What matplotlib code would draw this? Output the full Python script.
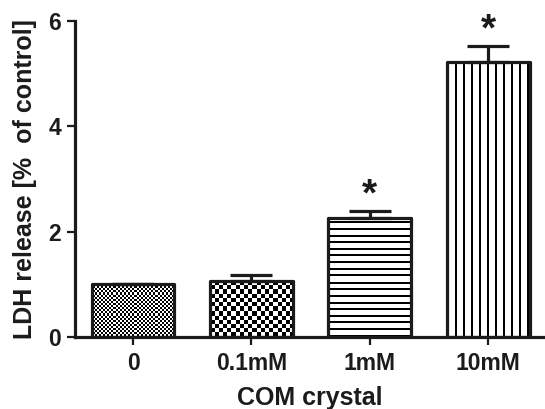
import numpy as np
import matplotlib
matplotlib.use("Agg")
import matplotlib.pyplot as plt

categories = ["0", "0.1mM", "1mM", "10mM"]
values = [1.0, 1.07, 2.26, 5.22]
errors = [0.0, 0.11, 0.14, 0.31]
significant = [False, False, True, True]
yticks = [0, 2, 4, 6]

plt.rcParams['font.family'] = ['Liberation Sans', 'DejaVu Sans']
plt.rcParams['font.weight'] = 'bold'
INK = '#1c1a1b'

DPI = 100
fig = plt.figure(figsize=(5.45, 4.09), dpi=DPI)
ax = fig.add_axes([0.1376, 0.176, 0.8624, 0.7727])
x = np.arange(len(categories))
ax.set_xlim(-0.49, 3.48)
ax.set_ylim(0, 6)

bars = ax.bar(x, values, width=0.70, facecolor='none', edgecolor=INK,
              linewidth=2.3, zorder=3, joinstyle='round')

# pattern fills (checkerboards / stripes) rendered as images clipped to bars
fig.canvas.draw()
kinds = [("checker", 2.1), ("checker", 4.2), ("hlines", 6.6), ("vlines", 8.0)]
for bar, (kind, per) in zip(bars, kinds):
    bx, bw, bh = bar.get_x(), bar.get_width(), bar.get_height()
    p0 = ax.transData.transform((bx, 0))
    p1 = ax.transData.transform((bx + bw, bh))
    wpx = int(round(p1[0] - p0[0]))
    hpx = int(round(p1[1] - p0[1]))
    yy, xx = np.mgrid[0:hpx, 0:wpx]
    if kind == "checker":
        arr = ((np.floor(xx / per) + np.floor(yy / per)) % 2 == 0).astype(float)
    elif kind == "hlines":
        arr = ((yy % per) >= 2).astype(float)
    else:
        arr = ((xx % per) >= 2).astype(float)
    im = ax.imshow(arr, cmap='gray', vmin=0, vmax=1, origin='lower',
                   extent=(bx, bx + bw, 0, bh), aspect='auto',
                   interpolation='nearest', zorder=2)
    im.set_clip_path(bar)

ax.errorbar(x, values, yerr=[np.zeros(len(values)), errors], fmt='none',
            ecolor=INK, elinewidth=2.3, capsize=15, capthick=2.3, zorder=4)

for xi, v, e, s in zip(x, values, errors, significant):
    if s:
        ax.annotate('*', xy=(xi, v + e), xytext=(0, 4), textcoords='offset points',
                    ha='center', va='baseline', fontsize=28, fontweight='bold', color=INK)

ax.set_xlim(-0.49, 3.48)
ax.set_ylim(0, 6)
ax.set_xticks(x)
ax.set_xticklabels(categories)
ax.set_yticks(yticks)
for sp in ['top', 'right']:
    ax.spines[sp].set_visible(False)
for sp in ['left', 'bottom']:
    ax.spines[sp].set_linewidth(2.3)
    ax.spines[sp].set_color(INK)
    ax.spines[sp].set_capstyle('projecting')
ax.tick_params(axis='both', width=1.6, length=6, color=INK, labelsize=16.5,
               labelcolor=INK, pad=4)
ax.tick_params(axis='x', pad=5)
for lab in ax.get_xticklabels() + ax.get_yticklabels():
    lab.set_fontweight('bold')

ax.set_xlabel('COM crystal', fontsize=18, fontweight='bold', color=INK, labelpad=8)
ax.set_ylabel('LDH release [%  of control]', fontsize=18, fontweight='bold',
              color=INK, labelpad=8)

fig.savefig('out.png', dpi=DPI)
